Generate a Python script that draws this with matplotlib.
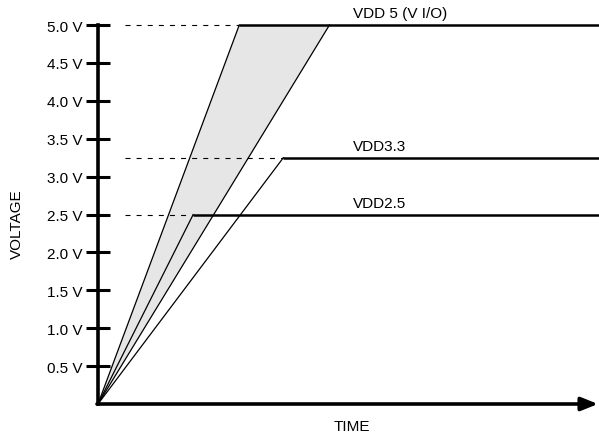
import matplotlib
matplotlib.use("Agg")
import matplotlib.pyplot as plt

plt.rcParams['font.family'] = ['Liberation Sans', 'DejaVu Sans']

# Data (time in arbitrary units, voltage in V)
rail_names = ["VDD 5 (V I/O)", "VDD3.3", "VDD2.5"]
rail_levels = [5.0, 3.25, 2.5]
ramp_end_times = [1.41, 1.85, 0.95]      # fast ramp end time for each rail
vdd5_slow_ramp_end = 2.31                # slow edge of VDD5 shaded window
dash_start = 0.27
t_end = 5.0
y_ticks = [0.5, 1.0, 1.5, 2.0, 2.5, 3.0, 3.5, 4.0, 4.5, 5.0]
y_tick_labels = ["0.5 V", "1.0 V", "1.5 V", "2.0 V", "2.5 V",
                 "3.0 V", "3.5 V", "4.0 V", "4.5 V", "5.0 V"]

W, H = 599, 435
fig = plt.figure(figsize=(W / 100, H / 100), dpi=100)
x0, y0 = 98, 405
px_per_V = 75.8
ymax = 5.3
ax = fig.add_axes([x0 / W, (H - y0) / H, (W - x0) / W, ymax * px_per_V / H])
ax.set_xlim(0, t_end)
ax.set_ylim(0, ymax)

# Shaded window for VDD5
ax.fill([0, ramp_end_times[0], vdd5_slow_ramp_end], [0, 5.0, 5.0],
        color='#e6e6e6', lw=0, zorder=1)

# Ramps
ax.plot([0, ramp_end_times[0]], [0, 5.0], color='black', lw=0.9, zorder=2)
ax.plot([0, vdd5_slow_ramp_end], [0, 5.0], color='black', lw=0.9, zorder=2)
for lvl, te in zip(rail_levels[1:], ramp_end_times[1:]):
    ax.plot([0, te], [0, lvl], color='black', lw=0.9, zorder=2)

# Flat levels and dashed guides
for name, lvl, te in zip(rail_names, rail_levels, ramp_end_times):
    ax.plot([te, t_end], [lvl, lvl], color='black', lw=1.8, zorder=3,
            solid_capstyle='butt', clip_on=False)
    ax.plot([dash_start, te], [lvl, lvl], color='black', lw=0.8,
            dashes=(4.5, 5.5), zorder=2)
    ax.text(2.54, lvl + 0.06, name, fontsize=11, ha='left', va='bottom')

# Axes styling
for s in ['top', 'right', 'bottom']:
    ax.spines[s].set_visible(False)
ax.spines['left'].set_linewidth(2.6)
ax.spines['left'].set_bounds(0, 5.0)
ax.set_xticks([])
ax.set_yticks(y_ticks)
ax.set_yticklabels(y_tick_labels)
ax.tick_params(axis='y', direction='inout', length=17, width=2.2,
               labelsize=11, pad=3)

# Time axis arrow
ax.annotate('', xy=(t_end - 0.01, 0), xytext=(-0.01, 0),
            xycoords='data', annotation_clip=False,
            arrowprops=dict(arrowstyle='-|>,head_length=1.0,head_width=0.4',
                            mutation_scale=10, lw=2.6, color='black',
                            shrinkA=0, shrinkB=0))

fig.text(17 / W, 1 - 224 / H, "VOLTAGE", rotation=90, fontsize=11,
         ha='center', va='center')
fig.text(352 / W, 1 - 427 / H, "TIME", fontsize=11, ha='center', va='center')

fig.savefig("out.png", dpi=100)
